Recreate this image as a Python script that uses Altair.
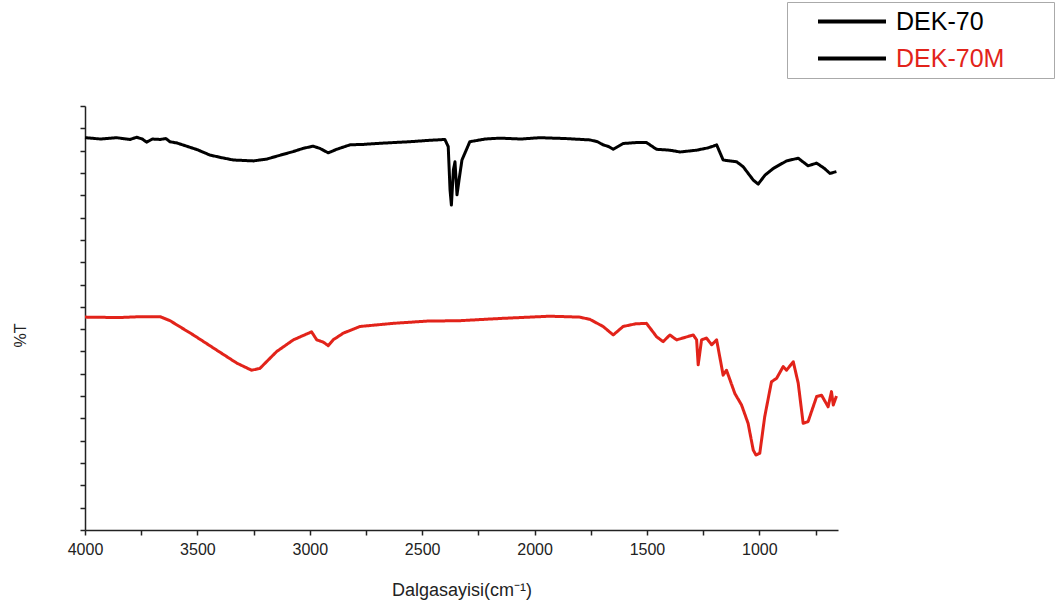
import altair as alt
import pandas as pd

# DEK-70 (black) – wavenumber (cm-1) and %T (arbitrary units)
wn_dek70 = [4000, 3930, 3860, 3800, 3770, 3745, 3726, 3700, 3666, 3640, 3622, 3590, 3548,
            3500, 3444, 3390, 3340, 3251, 3192, 3130, 3073, 3030, 2985, 2955, 2918, 2880,
            2821, 2760, 2703, 2630, 2554, 2470, 2399, 2384, 2376, 2370, 2361, 2354, 2345,
            2336, 2323, 2317, 2288, 2220, 2154, 2060, 1976, 1860, 1754, 1720, 1695, 1670,
            1650, 1606, 1550, 1502, 1457, 1398, 1353, 1279, 1230, 1205, 1190, 1161, 1101,
            1072, 1027, 1005, 975, 938, 879, 827, 783, 745, 710, 686, 657]
t_dek70 = [87.9, 87.6, 87.9, 87.5, 88.0, 87.6, 86.9, 87.6, 87.5, 87.7, 87.0, 86.7, 86.0,
           85.2, 84.0, 83.4, 82.9, 82.7, 83.1, 84.0, 84.8, 85.5, 86.0, 85.5, 84.5, 85.3,
           86.3, 86.4, 86.6, 86.8, 87.0, 87.3, 87.5, 85.9, 76.2, 72.8, 80.7, 82.5, 75.1,
           78.4, 82.9, 83.6, 87.0, 87.6, 87.8, 87.6, 87.9, 87.7, 87.4, 87.0, 86.3, 85.9,
           85.3, 86.6, 86.8, 86.8, 85.3, 85.1, 84.7, 85.1, 85.6, 86.0, 86.3, 82.9, 82.5,
           81.4, 78.4, 77.5, 79.5, 81.0, 82.7, 83.3, 81.6, 82.2, 81.0, 79.9, 80.3]

# DEK-70M (red)
wn_dek70m = [4000, 3850, 3750, 3666, 3622, 3518, 3414, 3325, 3259, 3222, 3147, 3073, 2992,
             2969, 2940, 2918, 2896, 2851, 2777, 2629, 2480, 2332, 2150, 1932, 1800, 1754,
             1695, 1650, 1606, 1550, 1502, 1457, 1428, 1398, 1368, 1294, 1279, 1272, 1257,
             1235, 1212, 1190, 1176, 1161, 1146, 1109, 1079, 1050, 1027, 1015, 998, 976,
             946, 923, 894, 879, 849, 827, 805, 783, 745, 723, 694, 679, 671, 657]
t_dek70m = [47.7, 47.6, 47.8, 47.8, 46.9, 43.7, 40.3, 37.4, 35.8, 36.2, 40.0, 42.6, 44.4,
            42.6, 42.1, 41.3, 42.6, 44.1, 45.6, 46.3, 46.8, 46.9, 47.4, 47.9, 47.7, 47.2,
            45.6, 43.7, 45.6, 46.2, 46.3, 43.3, 42.2, 43.7, 42.6, 43.7, 42.6, 37.0, 42.6,
            43.0, 41.5, 42.6, 38.8, 34.7, 35.8, 30.6, 28.0, 23.9, 17.9, 16.8, 17.2, 25.4,
            33.2, 34.0, 36.6, 35.8, 37.7, 32.9, 23.9, 24.3, 29.9, 30.2, 27.6, 31.0, 28.0, 30.0]

series_names = ["DEK-70", "DEK-70M"]
series_colors = ["#000000", "#e2231a"]

x_ticks = [4000 - 250 * i for i in range(14)]
y_ticks = [5 * i for i in range(20)]

df = pd.concat([
    pd.DataFrame({"wn": wn_dek70, "T": t_dek70, "sample": series_names[0],
                  "colour": series_colors[0], "order": range(len(wn_dek70))}),
    pd.DataFrame({"wn": wn_dek70m, "T": t_dek70m, "sample": series_names[1],
                  "colour": series_colors[1], "order": range(len(wn_dek70m))}),
])

# trailing non-breaking spaces (kept by a zero-width char) widen the legend box
pad = "\u00a0" * 7 + "\u200b"

chart = alt.Chart(df).mark_line(strokeWidth=3, strokeJoin="round").encode(
    x=alt.X("wn:Q",
            scale=alt.Scale(domain=[4000, 650], nice=False, zero=False),
            axis=alt.Axis(values=x_ticks, format="d",
                          labelExpr="datum.value % 500 == 0 ? datum.label : ''",
                          title="Dalgasayisi(cm\u207b\u00b9)", grid=False,
                          labelFontSize=16, titleFontSize=18, labelPadding=6,
                          titlePadding=24, titleFontWeight="normal",
                          tickSize=5, labelFlush=False)),
    y=alt.Y("T:Q",
            scale=alt.Scale(domain=[0, 95], nice=False, zero=False),
            axis=alt.Axis(values=y_ticks, labels=False, title="%T", grid=False,
                          titleFontSize=16, titleFontWeight="normal",
                          titleX=-65, titleY=229, titleAngle=-90,
                          titleAlign="center", titleBaseline="middle", tickSize=5)),
    stroke=alt.Stroke("colour:N", scale=None),
    strokeDash=alt.StrokeDash("sample:N",
                    scale=alt.Scale(domain=series_names, range=[[1, 0], [1, 0]]),
                    legend=alt.Legend(title=None, orient="none", legendX=702, legendY=-104,
                                      symbolType="stroke", symbolSize=4624,
                                      symbolStrokeWidth=4, symbolStrokeColor="black",
                                      clipHeight=37, rowPadding=0, padding=1,
                                      symbolOffset=28, labelOffset=8,
                                      labelFontSize=25, labelFont="Liberation Sans",
                                      labelLimit=500,
                                      labelExpr="datum.label + '" + pad + "'",
                                      labelColor={"expr": "indexof(datum.label, 'DEK-70M') >= 0 ? '#e2231a' : '#000000'"},
                                      strokeColor="#aaaaaa", fillColor="white")),
    order="order:Q",
).properties(
    width=753, height=424,
    autosize=alt.AutoSizeParams(type="none"),
    padding={"left": 85, "top": 106, "right": 219, "bottom": 82},
).configure_view(stroke=None).configure_axis(
    domainColor="#222222", domainWidth=1.5, tickColor="#222222", tickWidth=1.5,
    labelColor="#222222", titleColor="#222222",
    labelFont="Liberation Sans", titleFont="Liberation Sans",
)

chart.save("out.html", embed_options={"renderer": "svg", "actions": False})
